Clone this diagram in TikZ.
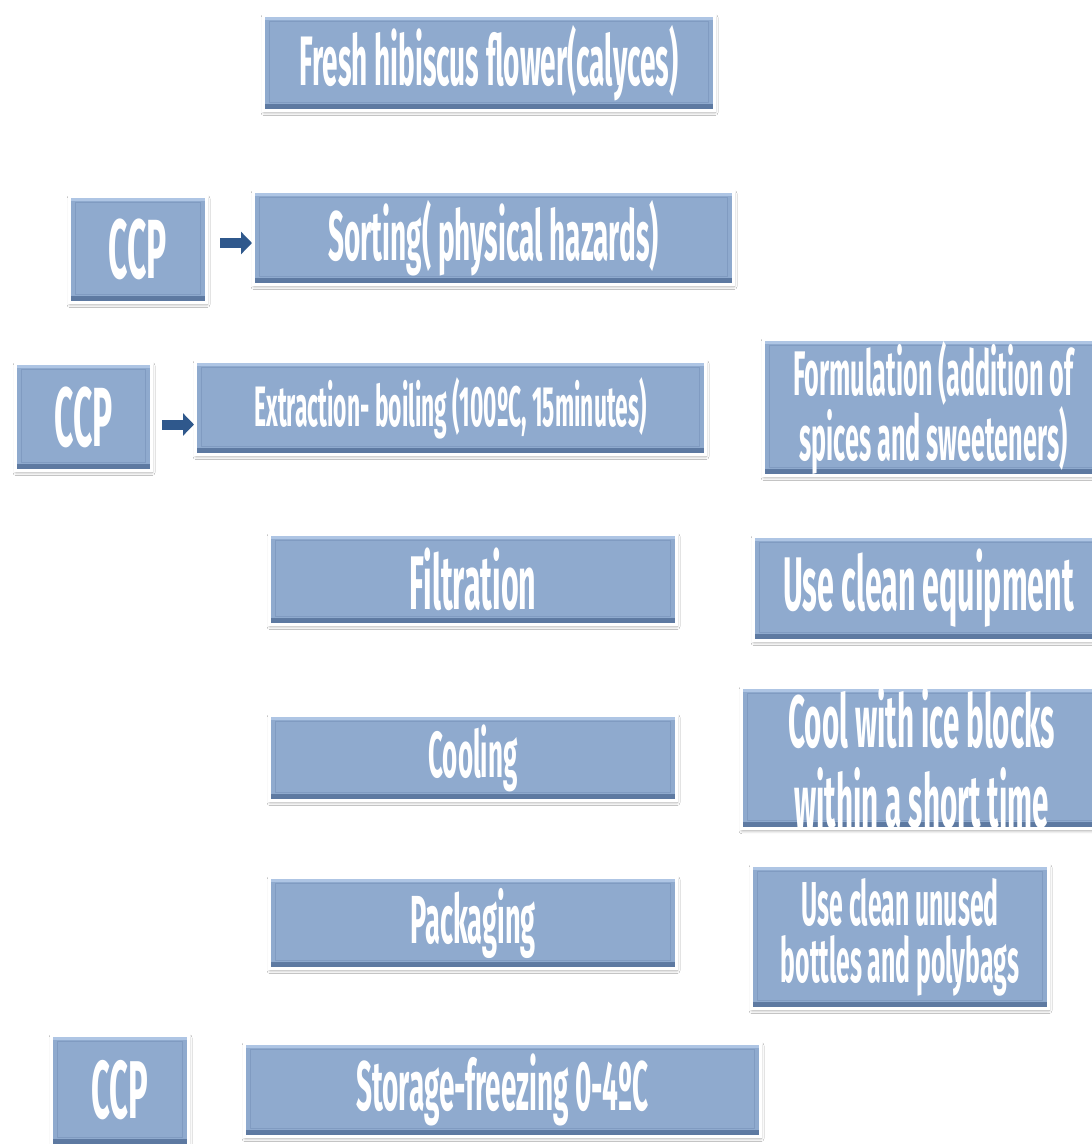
\documentclass[tikz,border=0pt]{standalone}
\usepackage{fontspec}
\newfontfamily\agency[FakeStretch=0.40]{Fira Sans}
\usetikzlibrary{shadows,shadows.blur,arrows.meta,calc}
\definecolor{boxblue}{RGB}{143,170,206}
\definecolor{bevdark}{RGB}{92,120,160}
\definecolor{bevlight}{RGB}{174,197,228}
\definecolor{bevline}{RGB}{128,155,193}
\definecolor{arrblue}{RGB}{47,88,140}
\newcommand{\fsz}[2]{\agency\bfseries\fontsize{#1}{#2}\selectfont}
\tikzset{
 box/.style={draw=white, line width=3pt, fill=boxblue, inner sep=0pt, anchor=north west,
   align=center, text=white,
   blur shadow={shadow blur steps=6, shadow blur radius=3pt, shadow xshift=0.5pt, shadow yshift=-2pt, shadow opacity=35},
   path picture={
     \shade[top color=boxblue!70!bevdark, bottom color=bevdark]
       ([yshift=6pt]path picture bounding box.south west) rectangle (path picture bounding box.south east);
     \fill[bevlight]
       ([yshift=-4pt]path picture bounding box.north west) rectangle (path picture bounding box.north east);
     \draw[bevline, line width=0.7pt]
       ([shift={(6pt,8pt)}]path picture bounding box.south west) rectangle ([shift={(-6pt,-6pt)}]path picture bounding box.north east);
   }},
 arr/.style={draw=arrblue, line width=10pt, -{Triangle[length=11pt,width=22pt]}}
}
\begin{document}
\begin{tikzpicture}[x=1pt,y=-1pt]
\useasboundingbox[fill=white] (0,0) rectangle (1092,1144);

\node[box, minimum width=451pt, minimum height=95pt, font=\fsz{70}{70}] (fresh) at (262,14) {Fresh hibiscus flower(calyces)};

\node[box, minimum width=137pt, minimum height=106pt, font=\fsz{84}{84}] (ccp1) at (68,195) {CCP};
\node[box, minimum width=480pt, minimum height=93pt, font=\fsz{70}{70}] (sorting) at (252,190) {Sorting( physical hazards)};

\node[box, minimum width=136pt, minimum height=107pt, font=\fsz{84}{84}] (ccp2) at (14,362) {CCP};
\node[box, minimum width=510pt, minimum height=93pt, font=\fsz{57}{57}] (extraction) at (194,360) {Extraction- boiling (100ºC, 15minutes)};

\node[box, minimum width=340pt, minimum height=136pt, font=\fsz{63}{51}] (formulation) at (762,338) {Formulation (addition of\\spices and sweeteners)};

\node[box, minimum width=407pt, minimum height=90pt, font=\fsz{76}{76}] (filtration) at (268,533) {Filtration};
\node[box, minimum width=350pt, minimum height=104pt, font=\fsz{76}{76}] (equipment) at (752,535) {Use clean equipment};

\node[box, minimum width=407pt, minimum height=85pt, font=\fsz{65}{65}] (cooling) at (268,714) {Cooling};
\node[box, minimum width=360pt, minimum height=141pt, font=\fsz{74}{80}] (ice) at (740,686) {Cool with ice blocks\\within a short time};

\node[box, minimum width=407pt, minimum height=91pt, font=\fsz{68}{68}] (packaging) at (268,876) {Packaging};
\node[box, minimum width=297pt, minimum height=143pt, font=\fsz{62}{57}] (bottles) at (750,864) {Use clean unused\\bottles and polybags};

\node[box, minimum width=137pt, minimum height=110pt, font=\fsz{82}{82}] (ccp3) at (50,1034) {CCP};
\node[box, minimum width=516pt, minimum height=93pt, font=\fsz{70}{70}] (storage) at (243,1042) {Storage-freezing 0-4ºC};

\draw[arr] ([shift={(12,-6.5)}]ccp1.east) coordinate (a1) -- (a1 -| sorting.west);
\draw[arr] ([shift={(9,7.5)}]ccp2.east) coordinate (a2) -- (a2 -| extraction.west);
\end{tikzpicture}
\end{document}
